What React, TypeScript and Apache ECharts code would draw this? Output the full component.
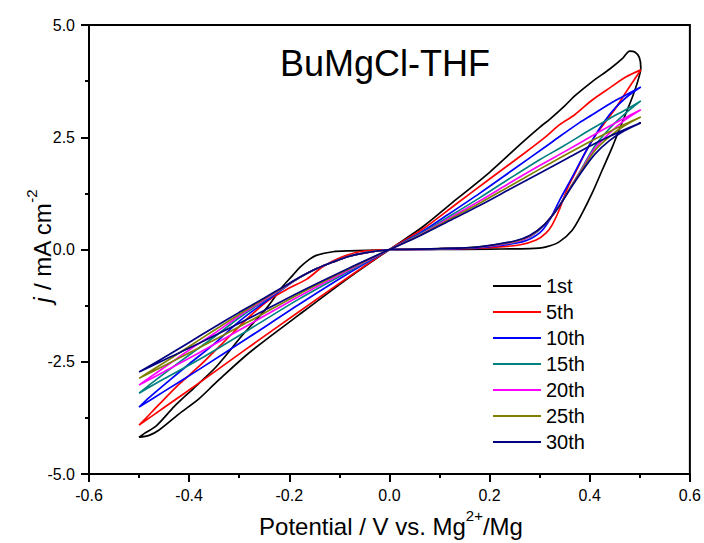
import React, { useEffect, useRef } from "react";
import * as echarts from "echarts";

const FONT = 'Arial, "Liberation Sans", Helvetica, sans-serif';

const cycleNames = ["1st", "5th", "10th", "15th", "20th", "25th", "30th"];
const cycleColors = ["#000000", "#ff0000", "#0000ff", "#008080", "#ff00ff", "#808000", "#000080"];
const xTicks = [-0.6, 0.6, 0.2];
const yTicks = [-5, 5, 2.5];

// each loop: anodic S-branch -> reverse linear branch -> cathodic linear branch -> return S-branch
const cycle1 = [
  [0, 0], [0.1, 0], [0.2, 0.01], [0.28, 0.02], [0.313, 0.06], [0.339, 0.17], [0.365, 0.43], [0.385, 0.81],
  [0.405, 1.26], [0.425, 1.77], [0.445, 2.28], [0.46, 2.7], [0.474, 3.08], [0.486, 3.42], [0.496, 3.75],
  [0.502, 4.05], [0.499, 4.28], [0.49, 4.4], [0.48, 4.42],
  [0.465, 4.25], [0.44, 4.02], [0.405, 3.74], [0.37, 3.42], [0.35, 3.2], [0.32, 2.9], [0.3, 2.72],
  [0.265, 2.38], [0.2, 1.72], [0.134, 1.12], [0.066, 0.5], [0, 0],
  [-0.08, -0.62], [-0.18, -1.45], [-0.28, -2.3], [-0.345, -2.95], [-0.38, -3.32], [-0.42, -3.66],
  [-0.46, -4.02], [-0.48, -4.14], [-0.5, -4.18],
  [-0.49, -4.1], [-0.465, -3.92], [-0.43, -3.5], [-0.39, -3.08], [-0.345, -2.6], [-0.293, -1.9],
  [-0.245, -1.3], [-0.213, -0.82], [-0.195, -0.6], [-0.179, -0.4], [-0.16, -0.22], [-0.146, -0.13],
  [-0.113, -0.05], [-0.08, -0.03], [0, -0.01],
];
const cycle5 = [
  [0, 0], [0.1, 0.01], [0.18, 0.03], [0.259, 0.1], [0.293, 0.21], [0.313, 0.37], [0.325, 0.55], [0.339, 0.88],
  [0.355, 1.35], [0.373, 1.75], [0.393, 2.2], [0.412, 2.55], [0.432, 2.85], [0.452, 3.15], [0.472, 3.5], [0.502, 4.0],
  [0.472, 3.84], [0.44, 3.6], [0.405, 3.33], [0.37, 3.0], [0.34, 2.78], [0.313, 2.52], [0.27, 2.15],
  [0.2, 1.57], [0.134, 1.02], [0.066, 0.45], [0, 0],
  [-0.08, -0.6], [-0.18, -1.38], [-0.28, -2.17], [-0.38, -2.97], [-0.45, -3.52], [-0.5, -3.91],
  [-0.49, -3.8], [-0.46, -3.45], [-0.42, -3.0], [-0.38, -2.6], [-0.33, -2.05], [-0.28, -1.5], [-0.24, -1.12],
  [-0.2, -0.86], [-0.165, -0.66], [-0.134, -0.39], [-0.1, -0.19], [-0.06, -0.05], [0, 0],
];
const cycle10 = [
  [0, 0], [0.1, 0.01], [0.179, 0.04], [0.265, 0.17], [0.3, 0.37], [0.32, 0.66], [0.34, 1.1], [0.365, 1.61],
  [0.393, 2.2], [0.42, 2.7], [0.445, 3.08], [0.472, 3.38], [0.502, 3.62],
  [0.472, 3.44], [0.445, 3.28], [0.405, 3.0], [0.379, 2.82], [0.339, 2.51], [0.313, 2.3], [0.246, 1.77],
  [0.18, 1.25], [0.12, 0.8], [0.06, 0.36], [0, 0],
  [-0.08, -0.52], [-0.18, -1.22], [-0.28, -1.95], [-0.38, -2.67], [-0.45, -3.16], [-0.5, -3.51],
  [-0.48, -3.3], [-0.44, -2.92], [-0.4, -2.55], [-0.35, -2.1], [-0.3, -1.6], [-0.25, -1.18], [-0.213, -0.88],
  [-0.179, -0.62], [-0.146, -0.43], [-0.113, -0.28], [-0.08, -0.15], [-0.046, -0.07], [0, 0],
];
const cycle15 = [
  [0, 0], [0.1, 0.02], [0.179, 0.05], [0.25, 0.16], [0.28, 0.28], [0.31, 0.55], [0.335, 0.9], [0.36, 1.35],
  [0.385, 1.82], [0.41, 2.3], [0.44, 2.7], [0.47, 3.02], [0.502, 3.31],
  [0.47, 3.1], [0.44, 2.92], [0.4, 2.66], [0.35, 2.32], [0.3, 2.0], [0.24, 1.58], [0.18, 1.15], [0.12, 0.74],
  [0.06, 0.34], [0, 0],
  [-0.08, -0.48], [-0.18, -1.1], [-0.28, -1.78], [-0.38, -2.45], [-0.45, -2.88], [-0.5, -3.2],
  [-0.48, -3.02], [-0.44, -2.68], [-0.4, -2.35], [-0.35, -1.95], [-0.3, -1.52], [-0.25, -1.14], [-0.213, -0.87],
  [-0.179, -0.62], [-0.146, -0.43], [-0.113, -0.28], [-0.08, -0.15], [-0.046, -0.07], [0, 0],
];
const cycle20 = [
  [0, 0], [0.1, 0.02], [0.179, 0.05], [0.25, 0.17], [0.28, 0.29], [0.31, 0.56], [0.335, 0.9], [0.36, 1.35],
  [0.385, 1.8], [0.41, 2.25], [0.44, 2.6], [0.47, 2.88], [0.502, 3.11],
  [0.47, 2.93], [0.44, 2.75], [0.4, 2.5], [0.35, 2.18], [0.3, 1.87], [0.24, 1.48], [0.18, 1.08], [0.12, 0.7],
  [0.06, 0.32], [0, 0],
  [-0.08, -0.45], [-0.18, -1.04], [-0.28, -1.67], [-0.38, -2.3], [-0.45, -2.72], [-0.5, -3.02],
  [-0.48, -2.86], [-0.44, -2.55], [-0.4, -2.24], [-0.35, -1.87], [-0.3, -1.48], [-0.25, -1.12], [-0.213, -0.86],
  [-0.179, -0.62], [-0.146, -0.43], [-0.113, -0.28], [-0.08, -0.15], [-0.046, -0.07], [0, 0],
];
const cycle25 = [
  [0, 0], [0.1, 0.02], [0.179, 0.06], [0.25, 0.18], [0.28, 0.3], [0.31, 0.56], [0.335, 0.9], [0.36, 1.35],
  [0.385, 1.78], [0.41, 2.2], [0.44, 2.52], [0.47, 2.76], [0.502, 2.95],
  [0.47, 2.79], [0.44, 2.63], [0.4, 2.4], [0.35, 2.1], [0.3, 1.79], [0.24, 1.41], [0.18, 1.03], [0.12, 0.67],
  [0.06, 0.31], [0, 0],
  [-0.08, -0.43], [-0.18, -0.99], [-0.28, -1.6], [-0.38, -2.19], [-0.45, -2.59], [-0.5, -2.87],
  [-0.48, -2.73], [-0.44, -2.45], [-0.4, -2.16], [-0.35, -1.8], [-0.3, -1.44], [-0.25, -1.1], [-0.213, -0.85],
  [-0.179, -0.62], [-0.146, -0.43], [-0.113, -0.28], [-0.08, -0.15], [-0.046, -0.07], [0, 0],
];
const cycle30 = [
  [0, 0], [0.1, 0.02], [0.179, 0.06], [0.25, 0.19], [0.28, 0.31], [0.31, 0.56], [0.335, 0.9], [0.36, 1.33],
  [0.385, 1.75], [0.41, 2.12], [0.44, 2.43], [0.47, 2.65], [0.502, 2.82],
  [0.47, 2.67], [0.44, 2.52], [0.4, 2.3], [0.35, 2.0], [0.3, 1.7], [0.24, 1.34], [0.18, 0.98], [0.12, 0.64],
  [0.06, 0.3], [0, 0],
  [-0.08, -0.41], [-0.18, -0.95], [-0.28, -1.53], [-0.38, -2.09], [-0.45, -2.46], [-0.5, -2.73],
  [-0.48, -2.6], [-0.44, -2.34], [-0.4, -2.07], [-0.35, -1.73], [-0.3, -1.4], [-0.25, -1.08], [-0.213, -0.84],
  [-0.179, -0.62], [-0.146, -0.43], [-0.113, -0.28], [-0.08, -0.15], [-0.046, -0.07], [0, 0],
];
const cycles = [cycle1, cycle5, cycle10, cycle15, cycle20, cycle25, cycle30];

const fmt = (v: number) => (Math.abs(v) < 1e-9 ? "0.0" : v.toFixed(1));

export default function App() {
  const ref = useRef<HTMLDivElement>(null);
  useEffect(() => {
    if (!ref.current) return;
    const chart = echarts.init(ref.current, undefined, { renderer: "svg" });
    const axisCommon = {
      axisLine: { show: true, onZero: false, lineStyle: { color: "#000", width: 2 } },
      axisTick: { show: true, inside: false, length: 8, lineStyle: { color: "#000", width: 2 } },
      minorTick: { show: true, splitNumber: 2, length: 4, lineStyle: { color: "#000", width: 2 } },
      splitLine: { show: false },
      minorSplitLine: { show: false },
    };
    chart.setOption({
      animation: false,
      backgroundColor: "#fff",
      grid: { left: 89, right: 13, top: 25, bottom: 69, show: true, borderColor: "#000", borderWidth: 2, backgroundColor: "transparent" },
      xAxis: {
        type: "value",
        min: xTicks[0],
        max: xTicks[1],
        interval: xTicks[2],
        ...axisCommon,
        axisLabel: { fontSize: 16, color: "#000", fontFamily: FONT, margin: 13, formatter: fmt },
      },
      yAxis: {
        type: "value",
        min: yTicks[0],
        max: yTicks[1],
        interval: yTicks[2],
        ...axisCommon,
        axisLabel: { fontSize: 16, color: "#000", fontFamily: FONT, margin: 14, formatter: fmt },
      },
      legend: {
        orient: "vertical",
        left: 493,
        top: 273,
        padding: 0,
        itemGap: 0,
        itemWidth: 48,
        itemHeight: 2,
        icon: "rect",
        selectedMode: false,
        data: cycleNames,
        textStyle: { fontSize: 20, fontFamily: FONT, color: "#000", lineHeight: 26 },
      },
      graphic: [
        {
          type: "text",
          x: 280,
          y: 63,
          style: { text: "BuMgCl-THF", fontSize: 36, fontFamily: FONT, fill: "#000", align: "left", verticalAlign: "middle" },
        },
        {
          type: "text",
          x: 391,
          y: 523,
          style: {
            text: "{n|Potential / V vs. Mg}{s|2+}{n|/Mg}",
            align: "center",
            verticalAlign: "middle",
            rich: {
              n: { fontSize: 24, fontFamily: FONT, fill: "#000", lineHeight: 30, verticalAlign: "bottom" },
              s: { fontSize: 15, fontFamily: FONT, fill: "#000", lineHeight: 15, verticalAlign: "top" },
            },
          },
        },
        {
          type: "text",
          x: 39,
          y: 246,
          rotation: Math.PI / 2,
          style: {
            text: "{i|j}{n| / mA cm}{s|-2}",
            align: "center",
            verticalAlign: "middle",
            rich: {
              i: { fontSize: 24, fontFamily: FONT, fontStyle: "italic", fill: "#000", lineHeight: 30, verticalAlign: "bottom" },
              n: { fontSize: 24, fontFamily: FONT, fill: "#000", lineHeight: 30, verticalAlign: "bottom" },
              s: { fontSize: 15, fontFamily: FONT, fill: "#000", lineHeight: 15, verticalAlign: "top" },
            },
          },
        },
      ],
      series: cycles.map((d, i) => ({
        name: cycleNames[i],
        type: "line",
        data: d,
        showSymbol: false,
        symbol: "none",
        smooth: 0.3,
        lineStyle: { color: cycleColors[i], width: 1.7 },
        itemStyle: { color: cycleColors[i] },
        z: 2 + i,
      })),
    });
    return () => chart.dispose();
  }, []);
  return <div ref={ref} style={{ position: "fixed", left: 0, top: 0, width: 704, height: 543 }} />;
}
